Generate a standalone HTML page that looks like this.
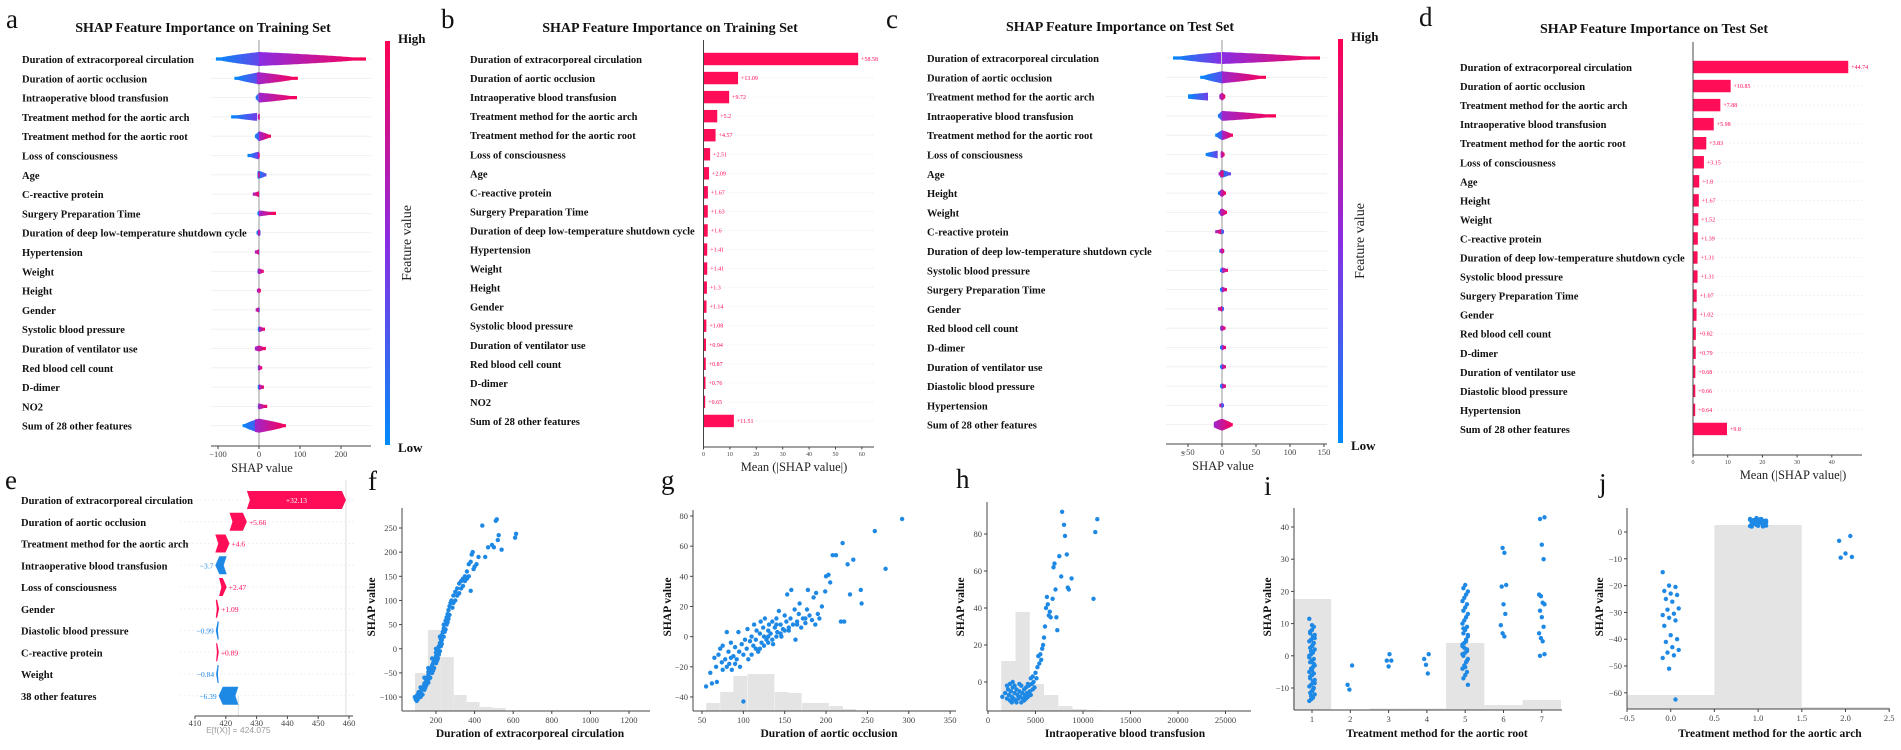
<!DOCTYPE html>
<html><head><meta charset="utf-8">
<style>
html,body{margin:0;padding:0;background:#fff;}
svg{display:block;font-family:"Liberation Serif",serif;}
.lab{font-weight:bold;font-size:10.5px;fill:#111;}
.tick{font-size:8.5px;fill:#444;}
.stick{font-size:6px;fill:#444;}
.title{font-weight:bold;font-size:14px;fill:#111;}
.plet{font-size:27px;fill:#111;}
.axt{font-size:12.5px;fill:#222;}
.bx{font-weight:bold;font-size:11.5px;fill:#111;}
</style></head>
<body>
<svg id="fig" width="1901" height="750" viewBox="0 0 1901 750">
<defs id="defs"></defs>
<rect x="0" y="0" width="1901" height="750" fill="#fff"/>
<text class="plet" x="6" y="28">a</text>
<text class="plet" x="441" y="28">b</text>
<text class="plet" x="886" y="28">c</text>
<text class="plet" x="1419" y="26">d</text>
<text class="plet" x="5" y="489">e</text>
<text class="plet" x="368" y="490">f</text>
<text class="plet" x="661" y="489">g</text>
<text class="plet" x="956" y="488">h</text>
<text class="plet" x="1264" y="495">i</text>
<text class="plet" x="1599" y="492">j</text>
<text class="title" x="203" y="32" text-anchor="middle">SHAP Feature Importance on Training Set</text>
<text class="title" x="670" y="32" text-anchor="middle">SHAP Feature Importance on Training Set</text>
<text class="title" x="1120" y="31" text-anchor="middle">SHAP Feature Importance on Test Set</text>
<text class="title" x="1654" y="33" text-anchor="middle">SHAP Feature Importance on Test Set</text>
</svg>
<script>
// ---------- data ----------
const featA = ["Duration of extracorporeal circulation","Duration of aortic occlusion","Intraoperative blood transfusion","Treatment method for the aortic arch","Treatment method for the aortic root","Loss of consciousness","Age","C-reactive protein","Surgery Preparation Time","Duration of deep low-temperature shutdown cycle","Hypertension","Weight","Height","Gender","Systolic blood pressure","Duration of ventilator use","Red blood cell count","D-dimer","NO2","Sum of 28 other features"];
const aBlueLo = [-105,-60,-8,-68,-10,-28,-4,-4,-4,-6,-4,-4,-4,-3,-3,-3,-3,-3,-3,-40];
const aBlueHi = [40,10,0,-4,5,0,20,3,4,5,3,4,3,2,4,3,4,3,3,15];
const aRedLo = [0,-5,0,-3,0,-3,-3,-15,0,-3,-10,-3,-5,-8,0,-10,-2,0,-2,-10];
const aRedHi = [262,95,95,4,30,3,4,0,42,3,2,14,5,0,16,18,8,14,22,68];
const aThick = [7,6,5,4,5,4,4,3,3,4,3,3,3,3,3,3,3,3,3,7];

const featB = featA;
const bVals = [58.58,13.09,9.72,5.2,4.57,2.51,2.09,1.67,1.63,1.6,1.41,1.41,1.3,1.14,1.08,0.94,0.87,0.76,0.65,11.51];

const featC = ["Duration of extracorporeal circulation","Duration of aortic occlusion","Treatment method for the aortic arch","Intraoperative blood transfusion","Treatment method for the aortic root","Loss of consciousness","Age","Height","Weight","C-reactive protein","Duration of deep low-temperature shutdown cycle","Systolic blood pressure","Surgery Preparation Time","Gender","Red blood cell count","D-dimer","Duration of ventilator use","Diastolic blood pressure","Hypertension","Sum of 28 other features"];
const cBlueLo = [-72,-32,-50,-6,-10,-24,-3,-6,-5,-3,-4,-3,-3,-3,-3,-3,-3,-3,-3,-6];
const cBlueHi = [0,10,-20,0,4,-5,14,4,4,3,4,3,3,3,3,3,3,3,3,8];
const cRedLo = [0,0,-4,0,0,-2,-5,-3,-3,-10,-3,0,0,-6,-2,0,0,0,-4,-12];
const cRedHi = [145,65,6,80,17,4,3,6,8,0,4,10,8,0,6,6,7,7,0,17];
const cThick = [6,6,4,5,5,4,4,4,4,3,3,3,3,3,3,3,3,3,3,6];

const featD = featC;
const dVals = [44.74,10.85,7.88,5.98,3.83,3.15,1.8,1.67,1.52,1.39,1.31,1.31,1.07,1.02,0.82,0.79,0.68,0.66,0.64,9.8];

const eLabels = ["Duration of extracorporeal circulation","Duration of aortic occlusion","Treatment method for the aortic arch","Intraoperative blood transfusion","Loss of consciousness","Gender","Diastolic blood pressure","C-reactive protein","Weight","38 other features"];
const eVals = [32.13,5.66,4.6,-3.7,2.47,1.09,-0.99,0.89,-0.84,-6.39];
const eBase = 424.075;
const eTicks = [410,420,430,440,450,460];

const fPoints = [[90,-100],[95,-105],[100,-98],[100,-108],[105,-95],[110,-100],[110,-90],[115,-92],[120,-90],[120,-100],[125,-85],[130,-80],[130,-95],[135,-78],[140,-72],[140,-85],[145,-70],[150,-65],[150,-75],[155,-60],[160,-55],[160,-70],[165,-50],[170,-45],[170,-60],[175,-40],[180,-35],[180,-50],[185,-30],[190,-25],[190,-40],[195,-20],[200,-15],[200,-30],[205,-8],[210,-2],[210,-20],[215,5],[220,12],[220,-5],[225,20],[230,28],[230,10],[235,35],[240,42],[240,25],[245,50],[250,58],[250,40],[255,65],[260,72],[260,55],[265,80],[270,88],[270,70],[275,95],[280,100],[290,110],[290,95],[300,118],[300,100],[310,125],[320,135],[320,115],[330,140],[340,145],[340,130],[350,150],[360,160],[370,175],[380,180],[380,120],[385,195],[390,200],[395,165],[400,170],[410,175],[420,190],[440,255],[455,190],[470,210],[490,215],[500,210],[510,265],[515,268],[520,225],[525,235],[540,205],[610,230],[615,238],[120,-80],[140,-60],[160,-40],[180,-20],[200,0],[220,25],[240,50],[105,-105],[125,-95],[145,-80],[165,-62],[185,-45],[205,-25],[225,5],[245,35],[160,-48],[180,-42],[200,-8],[215,-12],[230,18],[255,50],[265,62],[285,85],[310,110],[330,125],[350,140],[360,145],[370,150]];
const fXTicks = [200,400,600,800,1000,1200];
const fYTicks = [-100,-50,0,50,100,150,200,250];
const fHistStart = [91,158,225,292,359,426,493];
const fHistCounts = [38,81,54,16,9,4,3];

const gPoints = [[55,-33],[60,-24],[62,-31],[65,-14],[67,-20],[68,-30],[70,-12],[72,-8],[74,-17],[75,-6],[78,-15],[80,-20],[80,3],[82,-10],[83,-18],[85,-4],[86,-22],[88,-13],[90,-7],[92,-15],[94,3],[95,-10],[96,-20],[98,-5],[100,-12],[100,-43],[102,-2],[104,-8],[105,5],[106,-15],[108,-3],[110,0],[112,-6],[113,8],[115,-2],[116,4],[118,-10],[120,2],[121,10],[122,-4],[124,6],[125,0],[126,12],[128,-2],[130,4],[131,8],[133,2],[135,10],[136,-5],[138,6],[140,12],[141,3],[143,17],[145,8],[146,0],[148,5],[150,14],[152,10],[153,28],[155,4],[157,12],[158,31],[160,8],[162,18],[163,-2],[165,10],[167,15],[168,22],[170,6],[172,12],[175,9],[177,18],[178,31],[180,14],[183,11],[185,26],[187,8],[188,29],[190,15],[192,12],[195,20],[199,30],[200,40],[203,41],[205,36],[208,54],[212,54],[218,10],[220,62],[222,10],[226,48],[229,28],[233,51],[242,31],[243,22],[259,70],[272,45],[292,78],[115,-8],[125,-6],[135,-2],[145,2],[155,6],[165,8],[175,12],[110,-12],[120,-8],[130,-4],[140,0],[150,4],[90,-18],[85,-14],[75,-22],[140,8],[130,0]];
const gXTicks = [50,100,150,200,250,300,350];
const gYTicks = [-40,-20,0,20,40,60,80];
const gHistStart = [55,72,88,105,121,138,154,171,187,204,220];
const gHistCounts = [8,19,35,37,37,19,18,8,8,5,2];

const hPoints = [[1500,-8],[1800,-6],[2000,-9],[2100,-4],[2200,-7],[2300,-10],[2400,-5],[2500,-8],[2600,-3],[2700,-9],[2800,-6],[2900,-10],[3000,-4],[3100,-7],[3200,-9],[3300,-5],[3400,-8],[3500,-2],[3600,-6],[3700,-9],[3800,-4],[3900,-7],[4000,-3],[4100,-6],[4200,-8],[4300,-2],[4400,-5],[4500,-7],[4600,-1],[4700,-4],[4800,0],[4900,-3],[2300,-1],[2600,0],[2500,-11],[3000,-11],[3500,-11],[3300,-1],[4000,-9],[2000,-2],[2800,-2],[3800,-10],[4200,-1],[4500,2],[4700,3],[5000,5],[5100,2],[5200,8],[5300,14],[5400,10],[5500,15],[5600,12],[5700,18],[5800,20],[5900,24],[6000,30],[6100,40],[6200,46],[6300,42],[6400,36],[6500,38],[6600,35],[6800,45],[6900,62],[7000,64],[7100,50],[7200,35],[7300,28],[7500,68],[7700,57],[7800,92],[8000,85],[8100,79],[8300,69],[8400,51],[8500,50],[8800,56],[11100,45],[11300,81],[11500,88]];
const hXTicks = [0,5000,10000,15000,20000,25000];
const hYTicks = [0,20,40,60,80];
const hHistStart = [1400,2900,4400,5900,7400,8900,10400];
const hHistCounts = [50,99,27,16,5,2,1];

const iCats = [1,2,3,4,5,6,7];
const iVals = [
 [-14,-13.5,-13,-12,-11.5,-11,-10,-9.5,-9,-8,-7.5,-7,-6,-5.5,-5,-4,-3.5,-3,-2,-1.5,-1,0,0.5,1,2,2.5,3,4,4.5,5,6,6.5,7,8,9,11.5,-12.5,-10.5,-8.5,-6.5,-4.5,-2.5,-0.5,1.5,3.5,5.5,7.5,9.5],
 [-3,-9,-10.5],
 [0.5,-1.5,-1.5,-3.3],
 [0.5,-1,-2.8,-5.5],
 [-9,-7,-6,-5,-4,-3,-2,-1,0,1,2,3,4,5,6,7,8,9,10,11,12,13,14,15,16,17,18,19,20,21,22,-1.5,0.5,2.5,4.5,6.5,8.5,-3.5,1.5,3.5],
 [33.5,32,22,21.5,16,13,9.5,7,6],
 [43,42.5,34.5,30,19,18.5,16.5,16,14,12,9,7,5.5,4.5,0.5,0]];
const iHistCounts = [111,0,1.5,1.5,67,5,10];
const iYTicks = [-10,0,10,20,30,40];

const jCats = [0,1,2];
const jVals = [
 [-15,-20,-20.5,-22,-23,-23.5,-25,-26,-28.5,-29,-30.5,-31,-32,-33,-35,-38.5,-40,-41,-43,-44,-45,-46,-47,-51,-62.5],
 [2,2.3,2.6,3,3.3,3.6,4,4.3,4.6,5,2.1,2.5,2.9,3.2,3.5,3.9,4.2,4.5,4.8,2.2,2.7,3.1,3.4,3.8,4.1,4.4,4.7,2.4,3.0,3.7,4.9,5.2],
 [-1.5,-3.3,-8,-9.3,-9.6]];
const jHistCounts = [14,184,2];
const jXTicks = [-0.5,0,0.5,1,1.5,2,2.5];
const jYTicks = [-60,-50,-40,-30,-20,-10,0];

// ---------- helpers ----------
const NS = 'http://www.w3.org/2000/svg';
const svg = document.getElementById('fig');
const defs = document.getElementById('defs');
function mk(tag, attrs, parent){const e=document.createElementNS(NS,tag);for(const k in attrs)e.setAttribute(k,attrs[k]);(parent||svg).appendChild(e);return e;}
const BLUE=[0,139,250], MID=[138,45,228], RED=[255,0,82];
function col(t){let a,b,u;if(t<0.5){a=BLUE;b=MID;u=t/0.5;}else{a=MID;b=RED;u=(t-0.5)/0.5;}return 'rgb('+a.map((v,i)=>Math.round(v+(b[i]-v)*u)).join(',')+')';}
let gid=0;
function grad(x1,x2,t1,t2){const id='g'+(gid++);const g=mk('linearGradient',{id:id,gradientUnits:'userSpaceOnUse',x1:x1,x2:x2,y1:0,y2:0},defs);mk('stop',{offset:0,'stop-color':col(t1)},g);mk('stop',{offset:1,'stop-color':col(t2)},g);return 'url(#'+id+')';}
function txt(x,y,s,cls,anchor,parent){const t=mk('text',{x:x,y:y,class:cls,'text-anchor':anchor||'start'},parent);t.textContent=s;return t;}

// ---------- beeswarm panels ----------
function swarm(p, feats, bLo, bHi, rLo, rHi, thick){
  const xs = v => p.zero + v*p.ppu;
  const grp = mk('g',{});
  
  
  feats.forEach((f,i)=>{
    const y = p.y0 + i*p.step;
    const gl = mk('line',{x1:p.ax1,x2:p.ax2,y1:y,y2:y,stroke:'#eee','stroke-width':0.8},grp);
    
    
    const lt = txt(p.labX, y+4, f, 'lab', 'start', grp);
    
    
  });
  const zl = mk('line',{x1:p.zero,x2:p.zero,y1:p.top,y2:p.axY,stroke:'#999','stroke-width':1},grp);
  
  
  feats.forEach((f,i)=>{
    const y = p.y0 + i*p.step;
    const segs = [[bLo[i],bHi[i],0,0.42],[rLo[i],rHi[i],0.58,1]];
    segs.forEach((s,k)=>{
      const lo=s[0], hi=s[1];
      const span=Math.max(Math.abs(lo),Math.abs(hi),1);
      const peak=Math.min(Math.max(0,lo),hi);
      const up=[], dn=[];
      const x0=xs(lo), x1=xs(hi);
      for(let x=x0;x<=x1+0.01;x+=1){
        const v=(x-p.zero)/p.ppu;
        let h=thick[i]*Math.pow(Math.max(0,1-Math.abs(v-peak)/span),0.7);
        h=Math.max(h,1.6);
        up.push([x,y-h]); dn.push([x,y+h]);
      }
      if(up.length<2){up.push([x0+2,y-2.5]);dn.push([x0+2,y+2.5]);}
      const pts=up.concat(dn.reverse()).map(q=>q[0].toFixed(1)+','+q[1].toFixed(1)).join(' ');
      const fill = (i===0 && k===0) ? grad(x0,x1,0,0.5) : (i===0 ? grad(x0,x1,0.5,1) : grad(x0,x1+0.1,s[2],s[3]));
      const pg = mk('polygon',{points:pts,fill:fill},grp);
      
      
    });
  });
  const ax = mk('line',{x1:p.ax1,x2:p.ax2,y1:p.axY,y2:p.axY,stroke:'#444','stroke-width':1},grp);
  
  
  p.ticks.forEach(t=>{
    const tk = mk('line',{x1:xs(t),x2:xs(t),y1:p.axY,y2:p.axY+3,stroke:'#444'},grp);
    
    
    const tl = txt(xs(t), p.axY+11, t<0?'\u2212'+(-t):String(t), 'tick', 'middle', grp);
    
    
  });
  const xt = txt(p.xtX, p.axY+26, 'SHAP value', 'axt', 'middle', grp);
  
  
  const cid='cb'+(gid++);
  const cg=mk('linearGradient',{id:cid,x1:0,x2:0,y1:1,y2:0},defs);
  mk('stop',{offset:0,'stop-color':col(0)},cg);mk('stop',{offset:0.5,'stop-color':col(0.5)},cg);mk('stop',{offset:1,'stop-color':col(1)},cg);
  const cb = mk('rect',{x:p.cbX,y:p.cbY1,width:5,height:p.cbY2-p.cbY1,fill:'url(#'+cid+')'},grp);
  
  
  const hi = txt(p.cbX+13, p.cbY1+2, 'High', 'bx', 'start', grp);
  
  
  hi.setAttribute('style','font-size:13px');
  const low = txt(p.cbX+13, p.cbY2+7, 'Low', 'bx', 'start', grp);
  
  
  low.setAttribute('style','font-size:13px');
  const fv = txt(0,0,'Feature value','axt','middle',grp);
  fv.setAttribute('transform','translate('+(p.cbX+26)+','+((p.cbY1+p.cbY2)/2)+') rotate(-90)');
  fv.setAttribute('style','font-size:14px');
  
  
}
swarm({name:'panel-a-beeswarm',zero:259,ppu:0.41,y0:59,step:19.3,labX:22,ax1:211,ax2:371,axY:446,top:40,ticks:[-100,0,100,200],xtX:262,cbX:385,cbY1:41,cbY2:445}, featA,aBlueLo,aBlueHi,aRedLo,aRedHi,aThick);
swarm({name:'panel-c-beeswarm',zero:1222,ppu:0.68,y0:58,step:19.3,labX:927,ax1:1166,ax2:1327,axY:444,top:40,ticks:[-50,0,50,100,150],xtX:1223,cbX:1338,cbY1:39,cbY2:443}, featC,cBlueLo,cBlueHi,cRedLo,cRedHi,cThick);
const sMark = txt(1183,456,'S','stick','middle'); sMark.setAttribute('style','font-size:7px');



// ---------- bar panels ----------
function bars(p, feats, vals){
  const xs = v => p.ax + v*p.ppu;
  const grp = mk('g',{});
  
  
  feats.forEach((f,i)=>{
    const y=p.y0+i*p.step;
    const gl = mk('line',{x1:p.ax,x2:p.right,y1:y,y2:y,stroke:'#eee','stroke-width':0.8,'stroke-dasharray':'2,2'},grp);
    
    
    const lt = txt(p.labX, y+4, f, 'lab', 'start', grp);
    
    
    const r = mk('rect',{x:p.ax,y:y-6.2,width:Math.max(1.5,vals[i]*p.ppu),height:12.4,fill:'#FF0D57'},grp);
    
    
    const vl = txt(xs(vals[i])+3, y+2, '+'+vals[i], 'stick', 'start', grp);
    vl.setAttribute('style','fill:#FF0D57;font-size:6px');
    
    
  });
  const va = mk('line',{x1:p.ax,x2:p.ax,y1:p.top,y2:p.axY,stroke:'#444'},grp);
  
  
  const ha = mk('line',{x1:p.ax,x2:p.right,y1:p.axY,y2:p.axY,stroke:'#444'},grp);
  
  
  p.ticks.forEach(t=>{
    const tk = mk('line',{x1:xs(t),x2:xs(t),y1:p.axY,y2:p.axY+2.5,stroke:'#444'},grp);
    
    
    const tl = txt(xs(t), p.axY+9, String(t), 'stick', 'middle', grp);
    
    
  });
  const xt = txt(p.xtX, p.axY+24, 'Mean (|SHAP value|)', 'axt', 'middle', grp);
  
  
}
bars({name:'panel-b-bars',ax:703.5,ppu:2.64,y0:59,step:19.05,labX:470,right:874,top:40,axY:447,ticks:[0,10,20,30,40,50,60],xtX:794},featB,bVals);
bars({name:'panel-d-bars',ax:1693,ppu:3.47,y0:67,step:19.05,labX:1460,right:1862,top:42,axY:455,ticks:[0,10,20,30,40],xtX:1793},featD,dVals);

// ---------- waterfall e ----------
(function(){
  const xs = v => 195 + (v-410)*3.08;
  const y0=500, step=21.75, h=18, axY=716;
  const grp = mk('g',{});
  
  
  let total = eBase + eVals.reduce((a,b)=>a+b,0);
  const l1 = mk('line',{x1:xs(eBase),x2:xs(eBase),y1:y0+step*(eVals.length-1),y2:axY,stroke:'#ddd'},grp);
  
  
  const l2 = mk('line',{x1:xs(total),x2:xs(total),y1:480,y2:axY,stroke:'#ddd'},grp);
  
  
  let cum = total;
  eLabels.forEach((lab,i)=>{
    const y=y0+i*step, v=eVals[i];
    const end=cum, start=cum-v; cum=start;
    const gl = mk('line',{x1:180,x2:355,y1:y,y2:y,stroke:'#f0f0f0','stroke-dasharray':'2,2'},grp);
    
    
    const lt = txt(21, y+4, lab, 'lab', 'start', grp);
    
    
    const xa=xs(start), xb=xs(end), w=Math.abs(xb-xa), dir=v>0?1:-1;
    const tip=Math.min(4,w*0.6);
    const pts=[[xa,y-h/2],[xb-dir*tip,y-h/2],[xb,y],[xb-dir*tip,y+h/2],[xa,y+h/2],[xa+dir*Math.min(3,w*0.3),y]].map(q=>q[0].toFixed(1)+','+q[1].toFixed(1)).join(' ');
    const c = v>0?'#FF0D57':'#1E88E5';
    const pg = mk('polygon',{points:pts,fill:c},grp);
    
    
    const s=(v>0?'+':'\u2212')+Math.abs(v);
    let t;
    if(w>22){t=txt((xa+xb)/2, y+3, s, 'stick','middle',grp); t.setAttribute('style','fill:#fff;font-size:7.5px');}
    else if(v>0){t=txt(xb+2, y+3, s, 'stick','start',grp); t.setAttribute('style','fill:#FF0D57;font-size:7.5px');}
    else {t=txt(xb-2, y+3, s, 'stick','end',grp); t.setAttribute('style','fill:#1E88E5;font-size:7.5px');}
    
    
  });
  const ax = mk('line',{x1:xs(410),x2:353,y1:axY,y2:axY,stroke:'#444'},grp);
  
  
  eTicks.forEach(t=>{
    const tk = mk('line',{x1:xs(t),x2:xs(t),y1:axY,y2:axY+3,stroke:'#444'},grp);
    
    
    const tl = txt(xs(t), axY+10, String(t), 'tick', 'middle', grp);
    
    
  });
  const et = txt(xs(eBase), axY+17, 'E[f(X)] = '+eBase, 'tick', 'middle', grp);
  et.setAttribute('style','fill:#999;font-size:8.5px;font-family:"Liberation Sans",sans-serif');
  
  
})();

// ---------- dependence scatter panels ----------
function dep(p){
  const grp = mk('g',{});
  
  
  p.hist.forEach(b=>{
    const x1=p.xs(b[0]), x2=p.xs(b[1]);
    const r = mk('rect',{x:x1,y:p.axY-b[2],width:Math.max(0,x2-x1),height:b[2],fill:'#e4e4e4'},grp);
    
    
  });
  p.pts.forEach((q,k)=>{
    const c = mk('circle',{cx:(p.xs(q[0])+(p.jit?p.jit(k):0)).toFixed(1),cy:p.ys(q[1]).toFixed(1),r:2.2,fill:'#1E88E5'},grp);
    
    
  });
  const ya = mk('line',{x1:p.axX,x2:p.axX,y1:p.top,y2:p.axY,stroke:'#444'},grp);
  
  
  const xa = mk('line',{x1:p.axX,x2:p.right,y1:p.axY,y2:p.axY,stroke:'#444'},grp);
  
  
  p.xt.forEach(t=>{
    const tk = mk('line',{x1:p.xs(t),x2:p.xs(t),y1:p.axY,y2:p.axY+3,stroke:'#444'},grp);
    
    
    const tl = txt(p.xs(t), p.axY+12, p.xf?p.xf(t):(t<0?'\u2212'+(-t):String(t)), 'tick', 'middle', grp);
    
    
  });
  p.yt.forEach(t=>{
    const tk = mk('line',{x1:p.axX-3,x2:p.axX,y1:p.ys(t),y2:p.ys(t),stroke:'#444'},grp);
    
    
    const tl = txt(p.axX-5, p.ys(t)+3, t<0?'\u2212'+(-t):String(t), 'tick', 'end', grp);
    
    
  });
  const xl = txt(p.xlX, 737, p.xlab, 'bx', 'middle', grp);
  
  
  const yl = txt(0,0,'SHAP value','bx','middle',grp);
  yl.setAttribute('transform','translate('+(p.ylX+4)+',607) rotate(-90)');
  
  
}
dep({name:'panel-f-dependence',xs:v=>436+(v-200)*0.193,ys:v=>528-(v-250)*0.483,axX:402,axY:711,top:508,right:650,
  hist:fHistStart.map((s,i)=>[s,s+67,fHistCounts[i]]),pts:fPoints,xt:fXTicks,yt:fYTicks,xlab:'Duration of extracorporeal circulation',xlX:530,ylX:371});
dep({name:'panel-g-dependence',xs:v=>702+(v-50)*0.827,ys:v=>516-(v-80)*1.508,axX:693,axY:711,top:510,right:956,
  hist:gHistStart.map((s,i)=>[s,s+16.5,gHistCounts[i]]),pts:gPoints,xt:gXTicks,yt:gYTicks,xlab:'Duration of aortic occlusion',xlX:829,ylX:667});
dep({name:'panel-h-dependence',xs:v=>988+v*0.0095,ys:v=>682-v*1.85,axX:987,axY:711,top:502,right:1251,
  hist:hHistStart.map((s,i)=>[s,s+1500,hHistCounts[i]]),pts:hPoints,xt:hXTicks,yt:hYTicks,xlab:'Intraoperative blood transfusion',xlX:1125,ylX:960});
const iPts=[]; iCats.forEach((c,i)=>iVals[i].forEach(v=>iPts.push([c,v])));
dep({name:'panel-i-dependence',xs:v=>1312+(v-1)*38.3,ys:v=>527-(v-40)*3.22,axX:1294,axY:710,top:508,right:1562,
  hist:iCats.map((c,i)=>[c-0.5,c+0.5,iHistCounts[i]]),pts:iPts,jit:k=>((k*37)%7-3)*0.9,xt:iCats,yt:iYTicks,xlab:'Treatment method for the aortic root',xlX:1437,ylX:1267});
const jPts=[]; jCats.forEach((c,i)=>jVals[i].forEach(v=>jPts.push([c,v])));
dep({name:'panel-j-dependence',xs:v=>1627+(v+0.5)*87.4,ys:v=>532-v*2.68,axX:1627,axY:709,top:508,right:1890,
  hist:jCats.map((c,i)=>[c-0.5,c+0.5,jHistCounts[i]]),pts:jPts,jit:k=>((k*37)%11-5)*1.6,xt:jXTicks,xf:t=>(t<0?'\u2212':'')+Math.abs(t).toFixed(1),yt:jYTicks,xlab:'Treatment method for the aortic arch',xlX:1770,ylX:1599});
</script>
</body></html>
